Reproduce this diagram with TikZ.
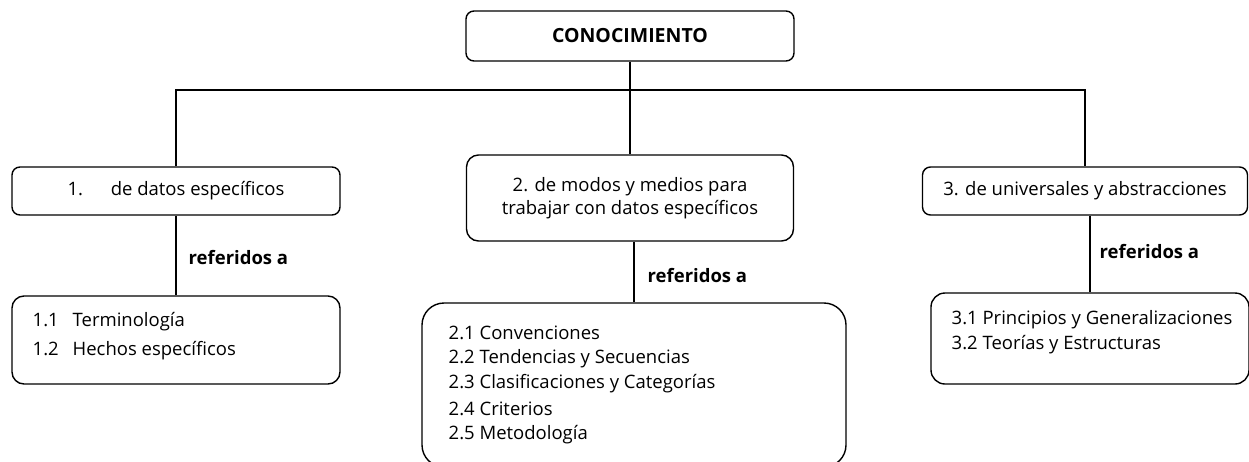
\documentclass[tikz,border=0pt]{standalone}
\usepackage{fontspec}
\setmainfont{Open Sans}
\tikzset{
  box/.style={draw, rounded corners=8pt, inner sep=0pt, align=center},
  txt/.style={font=\fontsize{18.5}{22}\selectfont},
  item/.style={txt, anchor=west, inner sep=0pt},
  refl/.style={font=\fontsize{18.5}{22}\selectfont\bfseries, anchor=west, inner sep=0pt},
}
\begin{document}
\begin{tikzpicture}[x=1pt,y=-1pt,line width=1.4pt]
\useasboundingbox (0,0) rectangle (1249,461);
\clip (0,0) rectangle (1249,461);
\node[box, font=\fontsize{19.5}{22}\selectfont\bfseries, minimum width=328pt, minimum height=50pt] (top) at (630,36) {CONOCIMIENTO};
\node[box, txt, minimum width=328pt, minimum height=48pt] (b1) at (176,191) {1.\hspace{1.5em}de datos específicos};
\node[box, txt, minimum width=327pt, minimum height=86pt, rounded corners=12pt] (b2) at (630,198) {2. de modos y medios para\\[1pt]trabajar con datos específicos};
\node[box, txt, minimum width=325pt, minimum height=48pt] (b3) at (1085,191) {3. de universales y abstracciones};
\node[box, minimum width=328pt, minimum height=88pt, rounded corners=12pt] (s1) at (176,340) {};
\node[box, minimum width=424pt, minimum height=164pt, rounded corners=22pt] (s2) at (634,385) {};
\node[box, minimum width=318pt, minimum height=91pt, rounded corners=14pt] (s3) at (1090,338.5) {};
\coordinate (j) at (630,90);
\draw (b1.north) |- (j) -| (b3.north);
\draw (top.south) -- (b2.north);
\draw (b1.south) -- (s1.north);
\draw (b2.south -| s2.north) -- (s2.north);
\draw (b3.south -| s3.north) -- (s3.north);
\node[refl] (r1) at (188,258) {referidos a};
\node[refl] (r2) at (647,276) {referidos a};
\node[refl] (r3) at (1099,252) {referidos a};
\node[item] (s1a) at (32,322) {\makebox[40pt][l]{1.1}Terminología};
\node[item] (s1b) at (32,351) {\makebox[40pt][l]{1.2}Hechos específicos};
\node[item] (s2a) at (448,333) {2.1 Convenciones};
\node[item] (s2b) at (448,358.3) {2.2 Tendencias y Secuencias};
\node[item] (s2c) at (448,383.6) {2.3 Clasificaciones y Categorías};
\node[item] (s2d) at (448,408.9) {2.4 Criterios};
\node[item] (s2e) at (448,434.2) {2.5 Metodología};
\node[item] (s3a) at (951,320) {3.1 Principios y Generalizaciones};
\node[item] (s3b) at (951,345) {3.2 Teorías y Estructuras};
\end{tikzpicture}
\end{document}
